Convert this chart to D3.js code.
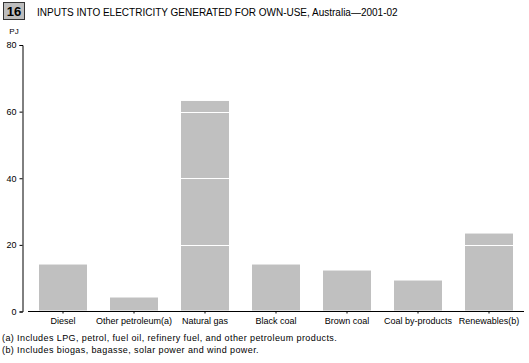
<!DOCTYPE html>
<html lang="en">
<head>
<meta charset="UTF-8">
<script src="https://d3js.org/d3.v7.min.js"></script>
<style>
  body { margin: 0; background: #fff; }
  svg text { font-family: "Liberation Sans", Arial, sans-serif; fill: #000; }
</style>
<title>Inputs into electricity generated for own-use</title>
</head>
<body>
<svg width="529" height="363"></svg>
<script>
  // categories and values (PJ)
  const categories = ['Diesel', 'Other petroleum(a)', 'Natural gas', 'Black coal', 'Brown coal', 'Coal by-products', 'Renewables(b)'];
  const values = [14.1, 4.2, 63.2, 14.1, 12.3, 9.3, 23.4];
  const yTicks = [0, 20, 40, 60, 80];
  const footnotes = [
    '(a) Includes LPG, petrol, fuel oil, refinery fuel, and other petroleum products.',
    '(b) Includes biogas, bagasse, solar power and wind power.'
  ];

  const svg = d3.select('svg');

  // chart number box + title
  svg.append('rect')
    .attr('x', 3.5).attr('y', 2.5).attr('width', 21).attr('height', 17)
    .attr('fill', '#bdbdbd').attr('stroke', '#333').attr('stroke-width', 1);
  svg.append('text')
    .attr('x', 14).attr('y', 16)
    .attr('text-anchor', 'middle')
    .style('font-size', '13px').style('font-weight', 'bold')
    .text('16');
  svg.append('text')
    .attr('x', 37).attr('y', 16)
    .style('font-size', '10px')
    .text('INPUTS INTO ELECTRICITY GENERATED FOR OWN-USE, Australia\u20142001-02');

  const x = d3.scaleBand().domain(categories).range([27.5, 524.5]).paddingInner(0.324).paddingOuter(0.162);
  const y = d3.scaleLinear().domain([0, 80]).range([311.5, 45]);

  // bars
  svg.append('g').selectAll('rect')
    .data(values)
    .join('rect')
    .attr('x', (d, i) => x(categories[i]))
    .attr('width', x.bandwidth())
    .attr('y', d => y(d))
    .attr('height', d => y(0) - 1 - y(d))
    .attr('fill', '#c0c0c0');

  // white gridlines over the bars
  svg.append('g').selectAll('line')
    .data(yTicks.filter(t => t > 0 && t < 80))
    .join('line')
    .attr('x1', 28).attr('x2', 524)
    .attr('y1', d => Math.round(y(d)) + 0.5).attr('y2', d => Math.round(y(d)) + 0.5)
    .attr('stroke', '#fff').attr('stroke-width', 1);

  // y axis
  const yAxis = svg.append('g')
    .attr('transform', 'translate(22.5,0)')
    .call(d3.axisLeft(y).tickValues(yTicks).tickSize(3).tickPadding(3));
  yAxis.select('.domain').attr('stroke', '#000');
  yAxis.selectAll('text').style('font-size', '9px').style('font-family', '"Liberation Sans", Arial, sans-serif');

  svg.append('text')
    .attr('x', 14).attr('y', 34)
    .attr('text-anchor', 'middle')
    .style('font-size', '8px')
    .text('PJ');

  // x axis
  const xAxis = svg.append('g')
    .attr('transform', 'translate(0,311.5)')
    .call(d3.axisBottom(x).tickSize(2).tickSizeOuter(0).tickPadding(4));
  xAxis.select('.domain').attr('d', 'M28,0H524').attr('stroke', '#000');
  xAxis.selectAll('text').style('font-size', '9px').style('font-family', '"Liberation Sans", Arial, sans-serif');

  // footnotes
  svg.append('g').selectAll('text')
    .data(footnotes)
    .join('text')
    .attr('x', 2)
    .attr('y', (d, i) => 341 + i * 12)
    .style('font-size', '9px')
    .style('letter-spacing', '0.4px')
    .text(d => d);
</script>
</body>
</html>
